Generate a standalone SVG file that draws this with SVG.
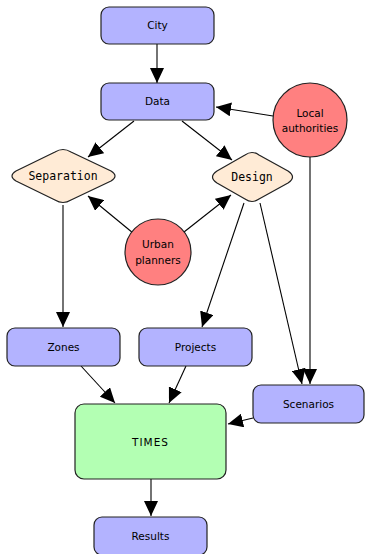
<svg xmlns="http://www.w3.org/2000/svg" width="365" height="554" viewBox="0 0 365 554">
<style>
.box{fill:#b3b3ff;stroke:#222;stroke-width:1.2}
.times{fill:#b3ffb3;stroke:#222;stroke-width:1.2}
.circ{fill:#ff8080;stroke:#222;stroke-width:1.2}
.dia{fill:#ffebd6;stroke:#222;stroke-width:1.2}
.t{font-family:"DejaVu Sans","Liberation Sans",sans-serif;font-size:10.5px;fill:#000;text-anchor:middle}
.m{font-family:"DejaVu Sans Mono","Liberation Mono",monospace;font-size:11.5px;fill:#000;text-anchor:middle}
.e{stroke:#000;stroke-width:1.1;fill:none;marker-end:url(#ah)}
</style>
<defs>
<marker id="ah" markerUnits="userSpaceOnUse" markerWidth="16" markerHeight="14" refX="15" refY="7" orient="auto">
<path d="M0,0 L15,7 L0,14 Z" fill="#000"/>
</marker>
</defs>
<g id="connectors">
<line class="e" x1="157" y1="44" x2="157" y2="83"/>
<line class="e" x1="273" y1="116" x2="216" y2="107"/>
<line class="e" x1="134" y1="121" x2="88" y2="157"/>
<line class="e" x1="182" y1="121" x2="232" y2="160"/>
<line class="e" x1="133" y1="233" x2="88" y2="196"/>
<line class="e" x1="184" y1="232" x2="231" y2="195"/>
<line class="e" x1="63" y1="205" x2="63" y2="327"/>
<line class="e" x1="244" y1="203" x2="202" y2="327"/>
<line class="e" x1="260" y1="203" x2="302" y2="384"/>
<line class="e" x1="310" y1="157" x2="310" y2="384"/>
<line class="e" x1="81" y1="366" x2="115" y2="403"/>
<line class="e" x1="186" y1="366" x2="169" y2="403"/>
<line class="e" x1="253" y1="418" x2="228" y2="424"/>
<line class="e" x1="151" y1="479" x2="151" y2="516"/>
</g>
<g id="city"><rect class="box" x="101" y="7" width="113" height="37" rx="8"/><text class="t" x="157.5" y="29">City</text></g>
<g id="data"><rect class="box" x="101" y="83" width="113" height="37" rx="8"/><text class="t" x="157.5" y="105">Data</text></g>
<g id="local"><circle class="circ" cx="310" cy="120" r="37"/><text class="t" x="310" y="117">Local</text><text class="t" x="310" y="132">authorities</text></g>
<g id="separation"><path class="dia" d="M55,152 Q63,147 71,152 L111,171 Q119,176 111,181 L71,200 Q63,205 55,200 L16,181 Q8,176 16,171 Z"/><text class="m" x="63" y="180">Separation</text></g>
<g id="design"><path class="dia" d="M245,155 Q252,150 259,155 L288,171 Q297,177 288,183 L259,199 Q252,204 245,199 L217,183 Q208,177 217,171 Z"/><text class="m" x="252" y="181">Design</text></g>
<g id="urban"><circle class="circ" cx="158" cy="252" r="33"/><text class="t" x="158" y="248">Urban</text><text class="t" x="158" y="264">planners</text></g>
<g id="zones"><rect class="box" x="7" y="328" width="113" height="38" rx="8"/><text class="t" x="63.5" y="351">Zones</text></g>
<g id="projects"><rect class="box" x="139" y="328" width="113" height="38" rx="8"/><text class="t" x="195.5" y="351">Projects</text></g>
<g id="scenarios"><rect class="box" x="253" y="385" width="111" height="38" rx="8"/><text class="t" x="308.5" y="408">Scenarios</text></g>
<g id="times"><rect class="times" x="75" y="404" width="151" height="75" rx="9"/><text class="t" x="150.5" y="446" letter-spacing="1">TIMES</text></g>
<g id="results"><rect class="box" x="94" y="517" width="113" height="38" rx="8"/><text class="t" x="150.5" y="540">Results</text></g>
</svg>
